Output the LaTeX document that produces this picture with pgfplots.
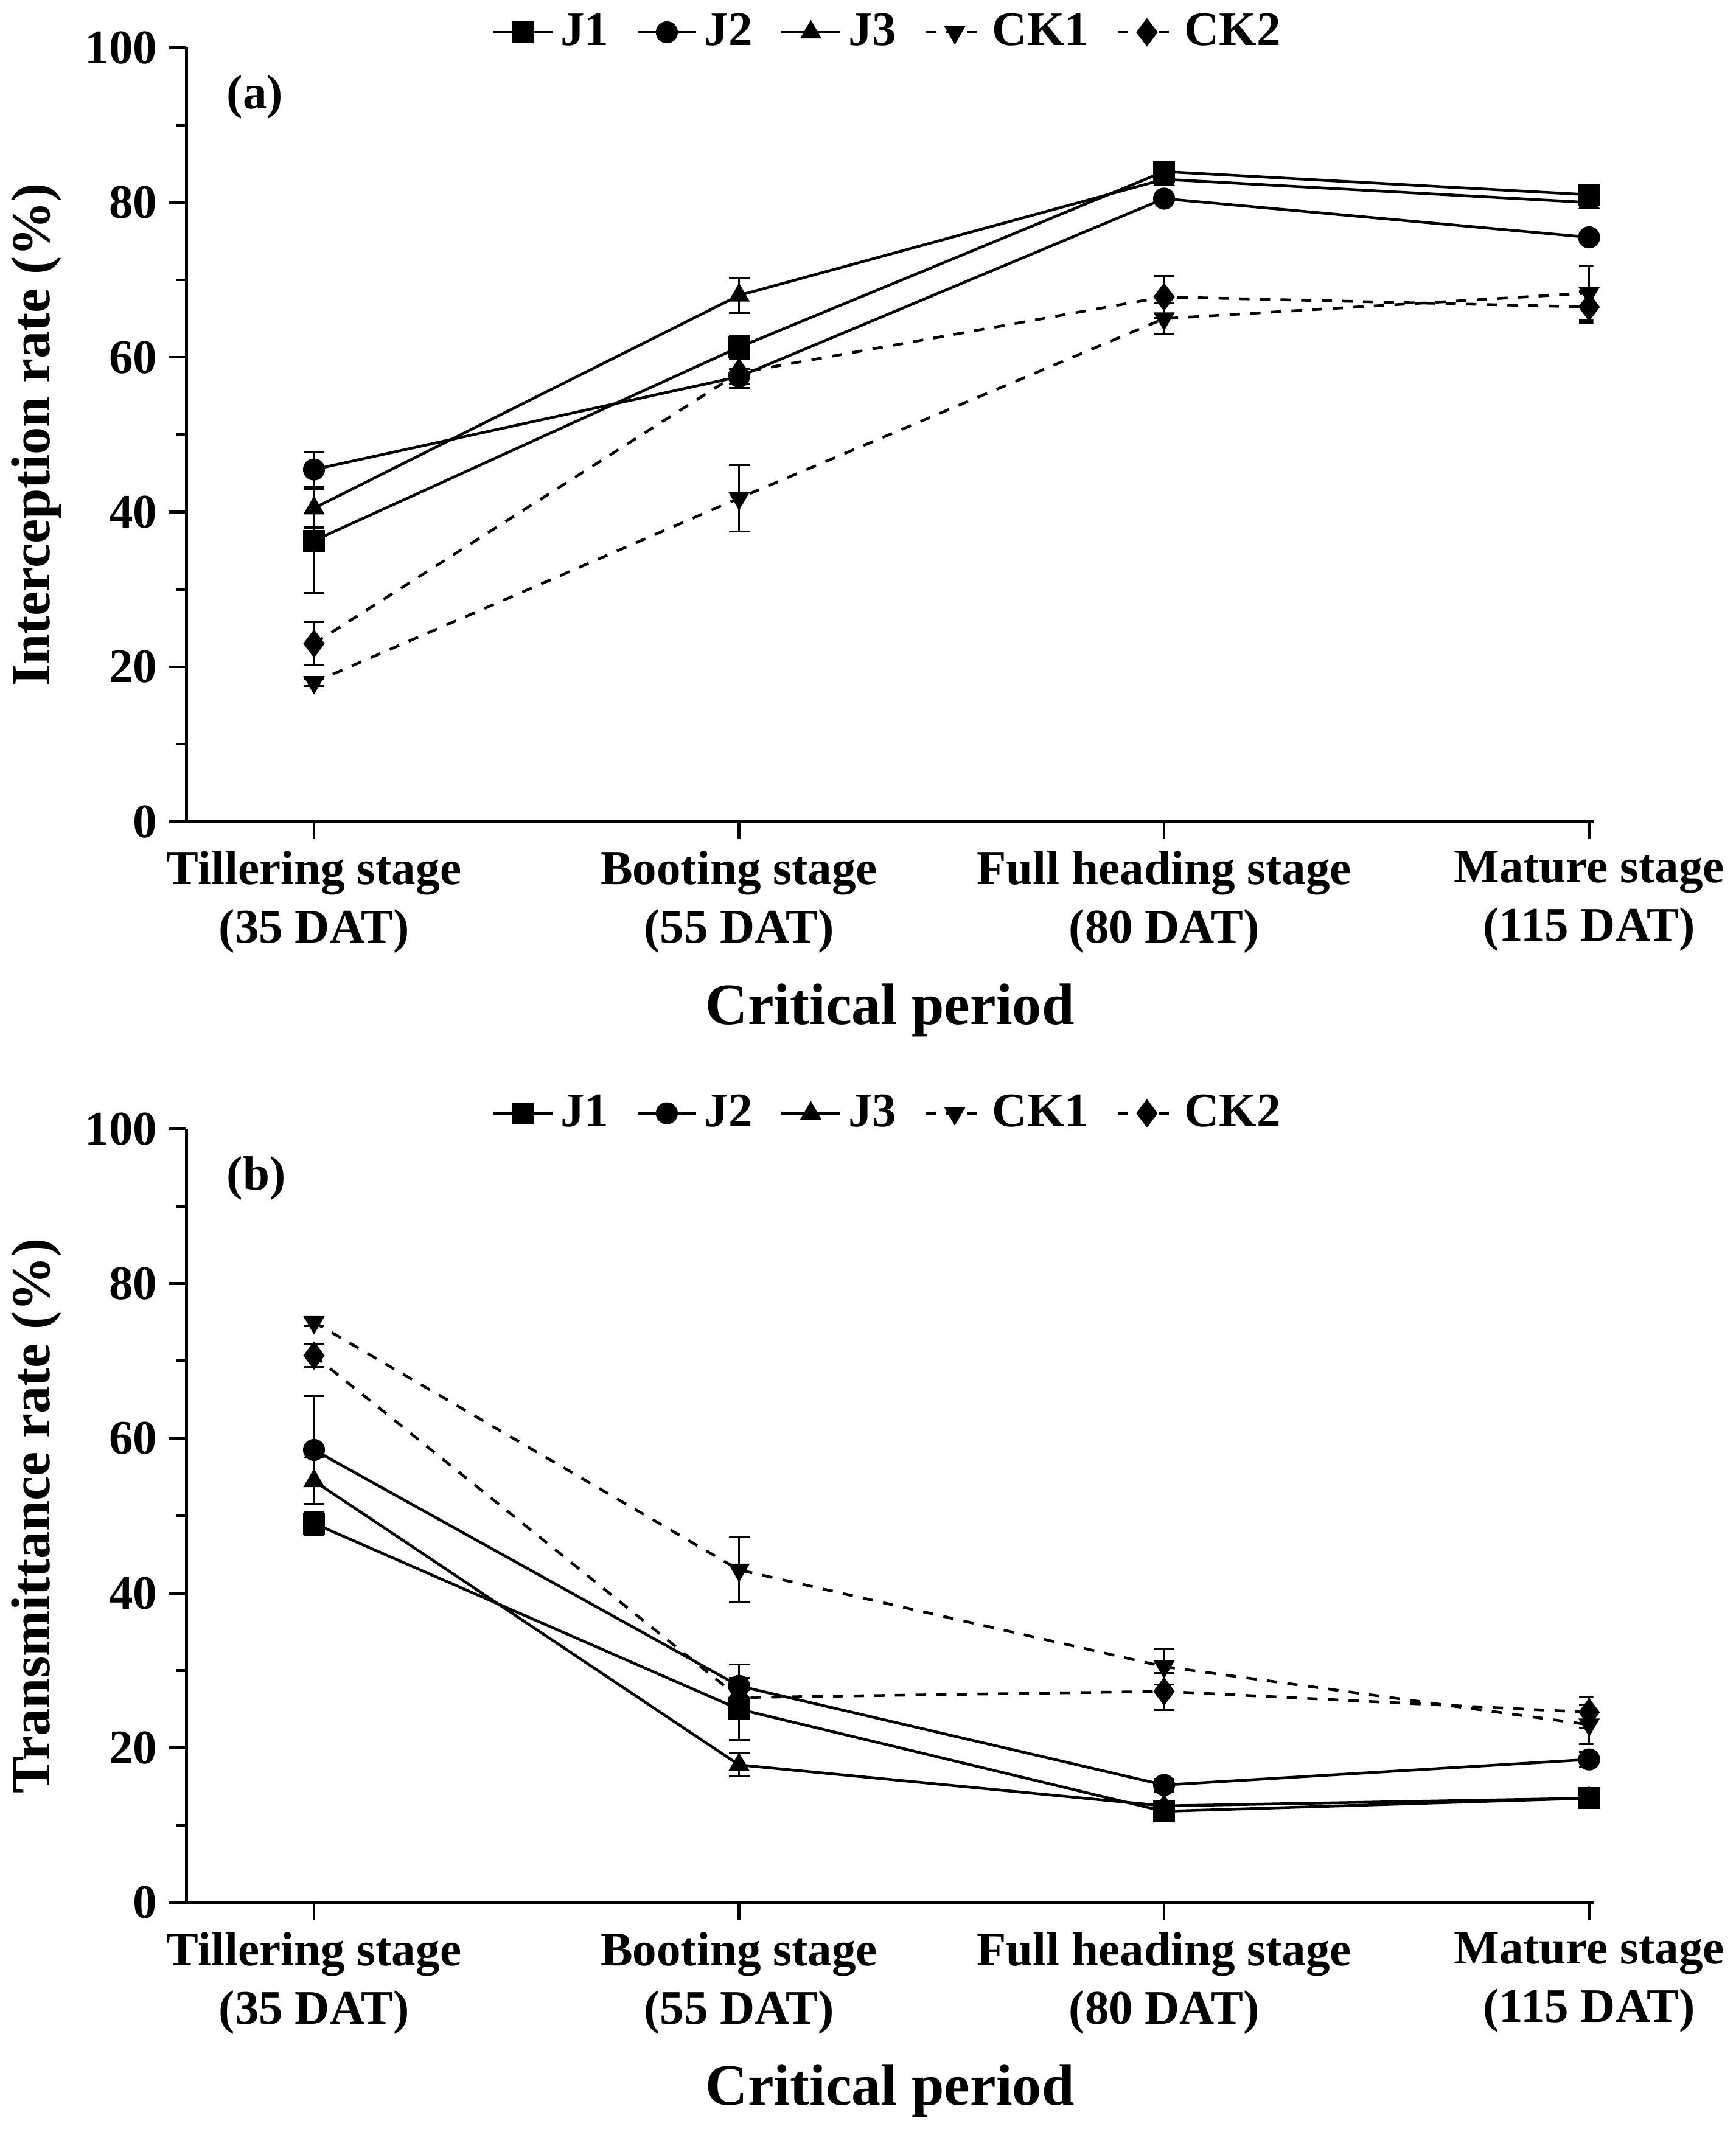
\documentclass[border=0pt]{standalone}
\usepackage{pgfplots}
\pgfplotsset{compat=1.18}
\usepackage{fontspec}
\setmainfont{Liberation Serif}
\begin{document}
\begin{tikzpicture}
\pgfplotsset{
 myax/.style={scale only axis, width=14.38cm, height=7.91cm,
  axis lines=left, axis line style={-, line width=0.8pt},
  xmin=-0.3, xmax=3.01, ymin=0, ymax=100,
  xtick={0,1,2,3}, xticklabels={{Tillering stage\\(35 DAT)},{Booting stage\\(55 DAT)},{Full heading stage\\(80 DAT)},{Mature stage\\(115 DAT)}},
  xticklabel style={align=center, font=\fontsize{14}{17}\selectfont\bfseries},
  yticklabel style={font=\fontsize{14}{17}\selectfont\bfseries},
  /pgf/number format/assume math mode=true,
  ytick={0,20,...,100}, minor y tick num=1,
  tick align=outside, tick style={black, line width=0.8pt}, major tick length=5pt, minor tick length=3pt,
  xlabel={Critical period}, xlabel style={font=\fontsize{17}{20}\selectfont\bfseries, yshift=-2pt},
  ylabel style={font=\fontsize{16}{19}\selectfont\bfseries},
  legend columns=5, legend style={draw=none, at={(0.5,1.02)}, anchor=center, font=\fontsize{14}{17}\selectfont\bfseries, /tikz/every even column/.append style={column sep=6pt}},
  legend image post style={sharp plot},
 },
 base/.style={black, line width=0.8pt, mark size=2.8pt,
   error bars/y dir=both, error bars/y explicit,
   error bars/error bar style={line width=0.6pt, solid},
   error bars/error mark options={rotate=90, mark size=3pt, line width=0.6pt, solid}},
 s1/.style={base, solid, mark=square*, mark options={solid}},
 s2/.style={base, solid, mark=*, mark options={solid}},
 s3/.style={base, solid, mark=triangle*, mark options={solid}},
 s4/.style={base, dashed, mark=triangle*, mark options={solid, rotate=180}},
 s5/.style={base, dashed, mark=diamond*, mark size=3.5pt, mark options={solid}},
}
\begin{axis}[myax, ylabel={Interception rate (\%)}]
\addplot[s1] table[y error=e]{x y e
0 36.3 6.8
1 61.3 1.5
2 84 0.5
3 81 0.5
};
\addplot[s2] table[y error=e]{x y e
0 45.5 2.3
1 57.5 1.0
2 80.5 0.5
3 75.5 0.6
};
\addplot[s3] table[y error=e]{x y e
0 40.5 2.5
1 68 2.3
2 83 0.5
3 80 0.5
};
\addplot[s4] table[y error=e]{x y e
0 18 0.5
1 41.8 4.3
2 65 2
3 68.3 3.5
};
\addplot[s5] table[y error=e]{x y e
0 23 2.8
1 58 2
2 67.8 2.7
3 66.5 2
};
\legend{J1,J2,J3,CK1,CK2}
\node[font=\fontsize{14}{17}\selectfont\bfseries, anchor=north west] at (rel axis cs:0.02,0.98) {(a)};
\end{axis}
\begin{axis}[myax, yshift=-11.05cm, ylabel={Transmittance rate (\%)}]
\addplot[s1] table[y error=e]{x y e
0 49 1.5
1 25 4
2 11.8 0.5
3 13.5 0.5
};
\addplot[s2] table[y error=e]{x y e
0 58.5 7
1 28 2.8
2 15.2 0.8
3 18.5 1
};
\addplot[s3] table[y error=e]{x y e
0 54.5 3
1 17.8 1.5
2 12.5 0.5
3 13.5 0.5
};
\addplot[s4] table[y error=e]{x y e
0 75 0.5
1 43 4.2
2 30.5 2.3
3 23 2.5
};
\addplot[s5] table[y error=e]{x y e
0 70.7 1.5
1 26.5 1
2 27.3 2.4
3 24.6 2
};
\legend{J1,J2,J3,CK1,CK2}
\node[font=\fontsize{14}{17}\selectfont\bfseries, anchor=north west] at (rel axis cs:0.02,0.98) {(b)};
\end{axis}
\end{tikzpicture}
\end{document}
